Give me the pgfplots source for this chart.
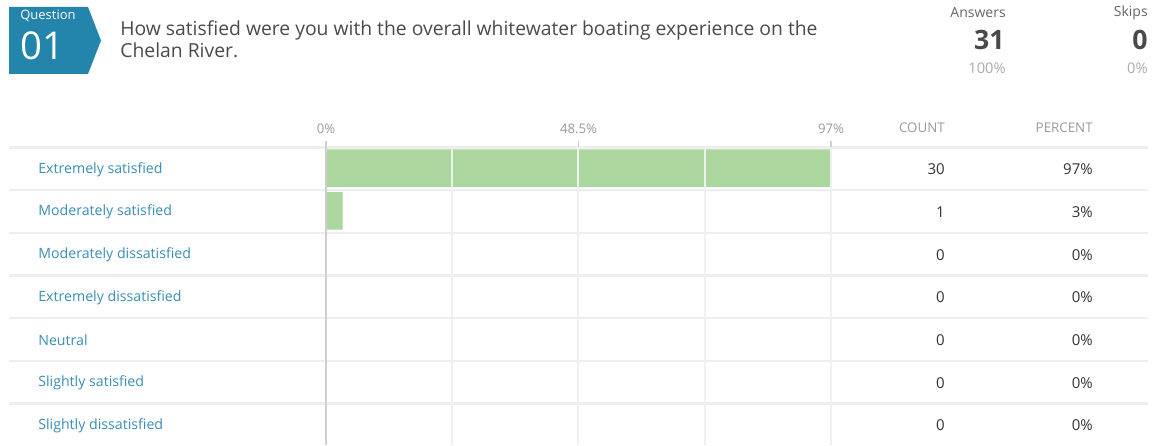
\documentclass[border=0pt]{standalone}
\usepackage{pgfplots}
\pgfplotsset{compat=1.18}
\usepackage{fontspec}
\setmainfont{Open Sans}
\definecolor{badge}{HTML}{2385AC}
\definecolor{lblue}{HTML}{3A8DB4}
\definecolor{titlec}{HTML}{4A4A4A}
\definecolor{barg}{HTML}{ABD69D}
\definecolor{rowline}{HTML}{EEEEEE}
\definecolor{gridc}{HTML}{EFEFEF}
\definecolor{zeroc}{HTML}{CFCFCF}
\definecolor{headc}{HTML}{9A9A9A}
\definecolor{numc}{HTML}{333333}
\definecolor{lightc}{HTML}{AAAAAA}
\definecolor{statc}{HTML}{666666}
\begin{document}
\begin{tikzpicture}
\begin{scope}[x=0.6pt,y=-0.6pt]
\useasboundingbox (0,0) rectangle (1158,445);
% row separators
\foreach \yy in {147.5,190,232.7,275.4,318,360.7,403.4}
  \draw[rowline, line width=1.4pt] (9,\yy) -- (1148,\yy);
\end{scope}
\begin{axis}[
  at={(195.6pt,-267pt)}, anchor=south west,
  scale only axis, width=303pt, height=178.8pt,
  xmin=0, xmax=97, ymin=-0.5, ymax=6.5,
  xbar, bar width=22.6pt, bar shift=0pt,
  ytick=\empty,
  xtick={0,24.25,48.5,72.75,97},
  xticklabels={0\%,,48.5\%,,97\%},
  xticklabel pos=upper,
  xmajorgrids, grid style={color=gridc, line width=1.2pt},
  major tick length=0pt,
  axis line style={draw=none},
  axis on top,
  xticklabel style={font=\fontsize{7.9pt}{8pt}\selectfont, text=headc, anchor=south, yshift=4.5pt},
  clip=false,
]
\addplot[fill=barg, draw=none] coordinates {(96.8,6) (3.2,5) (0,4) (0,3) (0,2) (0,1) (0,0)};
\end{axis}
\begin{scope}[x=0.6pt,y=-0.6pt]
\draw[zeroc, line width=1.2pt] (326,141) -- (326,445);
\draw[zeroc, line width=0.7pt] (578.5,141) -- (578.5,147);
\draw[zeroc, line width=0.7pt] (831,141) -- (831,147);
% badge
\fill[badge] (9,7) -- (88,7) -- (101,40.5) -- (88,74) -- (9,74) -- cycle;
\node[anchor=west, text=white, font=\fontsize{7.8pt}{8pt}\selectfont, inner sep=0pt] at (20,16) {Question};
\node[anchor=west, text=white, font=\fontsize{23pt}{24pt}\selectfont, inner sep=0pt] at (20,46) {01};
% title
\node[anchor=base west, text=titlec, font=\fontsize{11.6pt}{13pt}\selectfont, inner sep=0pt] at (120,36) {How satisfied were you with the overall whitewater boating experience on the};
\node[anchor=base west, text=titlec, font=\fontsize{11.6pt}{13pt}\selectfont, inner sep=0pt] at (120,58) {Chelan River.};
% answers / skips
\node[anchor=east, text=statc, font=\fontsize{8.4pt}{9pt}\selectfont, inner sep=0pt] at (1006,13) {Answers};
\node[anchor=east, text=titlec, font=\fontsize{16pt}{17pt}\selectfont\bfseries, inner sep=0pt] at (1005,40) {31};
\node[anchor=east, text=lightc, font=\fontsize{8.8pt}{9pt}\selectfont, inner sep=0pt] at (1006,68) {100\%};
\node[anchor=east, text=statc, font=\fontsize{8.4pt}{9pt}\selectfont, inner sep=0pt] at (1148,13) {Skips};
\node[anchor=east, text=titlec, font=\fontsize{16pt}{17pt}\selectfont\bfseries, inner sep=0pt] at (1148,40) {0};
\node[anchor=east, text=lightc, font=\fontsize{8.8pt}{9pt}\selectfont, inner sep=0pt] at (1148,68) {0\%};
% headers
\node[anchor=east, text=headc, font=\fontsize{8pt}{9pt}\selectfont, inner sep=0pt] at (945,128) {COUNT};
\node[anchor=east, text=headc, font=\fontsize{8pt}{9pt}\selectfont, inner sep=0pt] at (1093,128) {PERCENT};
% rows
\foreach \lab/\cnt/\pct [count=\i from 0] in {Extremely satisfied/30/97\%, Moderately satisfied/1/3\%, Moderately dissatisfied/0/0\%, Extremely dissatisfied/0/0\%, Neutral/0/0\%, Slightly satisfied/0/0\%, Slightly dissatisfied/0/0\%}{
  \pgfmathsetmacro{\yy}{169.5+42.65*\i}
  \node[anchor=west, text=lblue, font=\fontsize{8.5pt}{9pt}\selectfont, inner sep=0pt] at (38,\yy) {\lab};
  \node[anchor=east, text=numc, font=\fontsize{9pt}{9pt}\selectfont, inner sep=0pt] at (945,\yy) {\cnt};
  \node[anchor=east, text=numc, font=\fontsize{9pt}{9pt}\selectfont, inner sep=0pt] at (1093,\yy) {\pct};
}
\end{scope}
\end{tikzpicture}
\end{document}
